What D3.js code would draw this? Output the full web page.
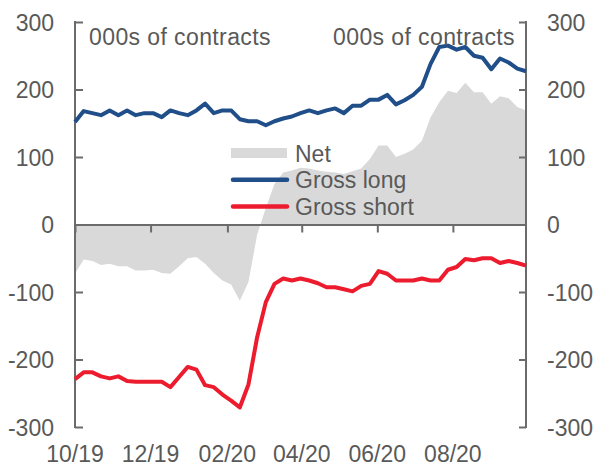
<!DOCTYPE html>
<html>
<head>
<meta charset="utf-8">
<script src="https://cdn.jsdelivr.net/npm/d3@7"></script>
<style>
  body { margin: 0; background: #fff; }
  svg text { font-family: "Liberation Sans", Arial, sans-serif; fill: #595959; }
</style>
</head>
<body>
<div id="chart"></div>
<script>
// weekly positioning dates (Tuesdays)
const dates = [
    "2019-10-01", "2019-10-08", "2019-10-15", "2019-10-22", "2019-10-29",
    "2019-11-05", "2019-11-12", "2019-11-19", "2019-11-26",
    "2019-12-03", "2019-12-10", "2019-12-17", "2019-12-24", "2019-12-31",
    "2020-01-07", "2020-01-14", "2020-01-21", "2020-01-28",
    "2020-02-04", "2020-02-11", "2020-02-18", "2020-02-25",
    "2020-03-03", "2020-03-10", "2020-03-17", "2020-03-24", "2020-03-31",
    "2020-04-07", "2020-04-14", "2020-04-21", "2020-04-28",
    "2020-05-05", "2020-05-12", "2020-05-19", "2020-05-26",
    "2020-06-02", "2020-06-09", "2020-06-16", "2020-06-23", "2020-06-30",
    "2020-07-07", "2020-07-14", "2020-07-21", "2020-07-28",
    "2020-08-04", "2020-08-11", "2020-08-18", "2020-08-25",
    "2020-09-01", "2020-09-08", "2020-09-15", "2020-09-22", "2020-09-29"
];

const net = [
    -73, -52, -54, -60, -58, -62, -62, -68, -68, -67, -72, -73, -62, -50, -48, -58, -72, -83,
    -89, -113, -85, -15, 25, 60, 77, 80, 84, 83, 80, 78, 77, 75, 79, 83, 97, 117,
    117, 100, 105, 111, 124, 159, 181, 198, 195, 210, 196, 196, 179, 190, 187, 174, 169
];

const grossLong = [
    152, 168, 165, 162, 169, 162, 169, 162, 165, 165, 159, 169, 165, 162, 169, 179, 165, 169,
    169, 156, 153, 153, 147, 153, 157, 160, 165, 169, 165, 169, 172, 165, 176, 176, 185, 185,
    192, 178, 184, 192, 204, 238, 263, 265, 259, 263, 250, 247, 230, 246, 240, 231, 227
];

const grossShort = [
    -229, -219, -219, -225, -228, -225, -232, -233, -233, -233, -233, -241, -226, -211, -215, -238, -241, -252,
    -261, -271, -237, -167, -115, -88, -80, -83, -80, -83, -87, -93, -93, -96, -99, -91, -88, -69,
    -73, -83, -83, -83, -80, -83, -83, -67, -63, -51, -53, -50, -50, -57, -54, -57, -61
];

const yTicks = [-300, -200, -100, 0, 100, 200, 300];
const xTickLabels = ["10/19", "12/19", "02/20", "04/20", "06/20", "08/20"];
const unitLabel = "000s of contracts";
const legendItems = [
    { name: "Net", type: "area", color: "#d9d9d9" },
    { name: "Gross long", type: "line", color: "#1f4e89" },
    { name: "Gross short", type: "line", color: "#ec1c2e" }
];

const width = 594, height = 467;
const marginLeft = 75, marginRight = 68, marginTop = 22, marginBottom = 40;
const axisColor = "#6b6b6b";

const parse = d3.timeParse("%Y-%m-%d");
const X = dates.map(parse);
const fmt = d3.timeFormat("%m/%y");
const parseTick = d3.timeParse("%m/%y");

const x = d3.scaleTime()
    .domain([X[0], X[X.length - 1]])
    .range([marginLeft, width - marginRight]);

const y = d3.scaleLinear()
    .domain([-300, 300])
    .range([height - marginBottom, marginTop]);

const xTickDates = xTickLabels.map(parseTick);

const svg = d3.select("#chart")
    .append("svg")
    .attr("width", width)
    .attr("height", height)
    .attr("viewBox", [0, 0, width, height]);

// net area
const area = d3.area()
    .x((d, i) => x(X[i]))
    .y0(y(0))
    .y1(d => y(d));

svg.append("path")
    .datum(net)
    .attr("fill", legendItems[0].color)
    .attr("d", area);

// zero line with two-monthly ticks
const xAxis = d3.axisBottom(x)
    .tickValues(xTickDates)
    .tickSize(8)
    .tickSizeOuter(0)
    .tickFormat("");

svg.append("g")
    .attr("transform", `translate(0,${y(0)})`)
    .call(xAxis)
    .call(g => g.select(".domain").attr("stroke", axisColor).attr("stroke-width", 2))
    .call(g => g.selectAll(".tick line").attr("stroke", axisColor).attr("stroke-width", 2));

// month labels at the bottom
svg.append("g")
    .selectAll("text")
    .data(xTickDates)
    .join("text")
    .attr("x", d => x(d))
    .attr("y", 462)
    .attr("text-anchor", "middle")
    .attr("font-size", 23)
    .text(fmt);

// left and right axes (plain hyphen for negatives)
const plain = d => String(d);
const yLeft = d3.axisLeft(y).tickValues(yTicks).tickFormat(plain).tickSize(-8).tickPadding(21);
const yRight = d3.axisRight(y).tickValues(yTicks).tickFormat(plain).tickSize(-7).tickPadding(21);

svg.append("g")
    .attr("transform", `translate(${marginLeft},0)`)
    .call(yLeft)
    .call(g => g.select(".domain").remove())
    .call(g => g.selectAll(".tick text").attr("font-size", 23).attr("font-family", null).attr("dy", "0.36em"));

svg.append("g")
    .attr("transform", `translate(${width - marginRight},0)`)
    .call(yRight)
    .call(g => g.select(".domain").remove())
    .call(g => g.selectAll(".tick text").attr("font-size", 23).attr("font-family", null).attr("dy", "0.36em"));

svg.selectAll(".tick line").attr("stroke", axisColor).attr("stroke-width", 2);

[marginLeft, width - marginRight].forEach(xp => {
    svg.append("line")
        .attr("x1", xp).attr("x2", xp)
        .attr("y1", y(300) - 1).attr("y2", y(-300) + 1)
        .attr("stroke", axisColor)
        .attr("stroke-width", 2);
});

// lines
const line = d3.line()
    .x((d, i) => x(X[i]))
    .y(d => y(d));

[[grossLong, legendItems[1].color], [grossShort, legendItems[2].color]].forEach(([data, color]) => {
    svg.append("path")
        .datum(data)
        .attr("fill", "none")
        .attr("stroke", color)
        .attr("stroke-width", 4)
        .attr("stroke-linejoin", "round")
        .attr("d", line);
});

// unit labels
svg.append("text")
    .attr("x", 89).attr("y", 45)
    .attr("font-size", 23)
    .attr("letter-spacing", 0.4)
    .text(unitLabel);

svg.append("text")
    .attr("x", 515).attr("y", 45)
    .attr("font-size", 23)
    .attr("letter-spacing", 0.4)
    .attr("text-anchor", "end")
    .text(unitLabel);

// legend
const legend = svg.append("g")
    .selectAll("g")
    .data(legendItems)
    .join("g")
    .attr("transform", (d, i) => `translate(231,${153 + i * 26.7})`);

legend.filter(d => d.type === "area")
    .append("rect")
    .attr("x", 0).attr("y", -5)
    .attr("width", 56).attr("height", 10)
    .attr("fill", d => d.color);

legend.filter(d => d.type === "line")
    .append("line")
    .attr("x1", 2).attr("x2", 56)
    .attr("stroke", d => d.color)
    .attr("stroke-width", 4.5)
    .attr("stroke-linecap", "round");

legend.append("text")
    .attr("x", 64)
    .attr("y", 8.5)
    .attr("font-size", 23)
    .text(d => d.name);
</script>
</body>
</html>
